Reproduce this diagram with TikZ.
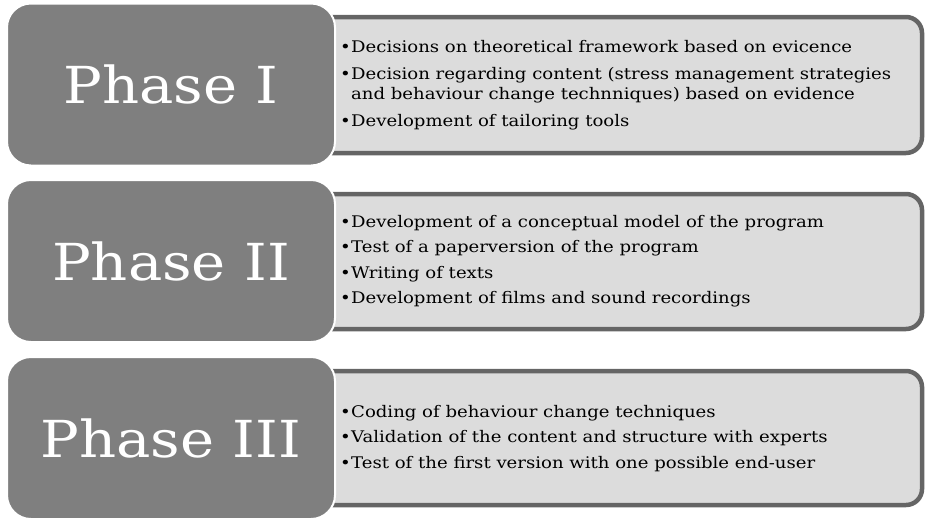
\documentclass[tikz,border=0pt]{standalone}
\usepackage{fontspec}
\setmainfont{DejaVu Serif}[FakeStretch=1.13]
\definecolor{phasefill}{HTML}{7F7F7F}
\definecolor{listfill}{HTML}{DCDCDC}
\definecolor{listedge}{HTML}{656565}
\newcommand{\itm}[1]{\makebox[11pt][l]{\textbullet}#1}
\newcommand{\cont}[1]{\hspace*{11pt}#1}
\begin{document}
\begin{tikzpicture}[x=1pt,y=-1pt,
  phasebox/.style={draw=white, line width=2pt, fill=phasefill, rounded corners=24pt,
    text=white, font=\fontsize{51}{60}\selectfont, inner sep=0pt},
  listbox/.style={draw=listedge, line width=4.5pt, fill=listfill, rounded corners=16pt,
    inner sep=0pt},
  listtext/.style={anchor=west, align=left, inner sep=0pt, text=black,
    font=\fontsize{16}{20.5}\selectfont}]
  \useasboundingbox (0,0) rectangle (925,520);

  % Phase I
  \node[listbox, minimum width=622pt, minimum height=136pt] (l1) at (611,85) {};
  \node[phasebox, minimum width=328pt, minimum height=162pt] (p1) at (171,84.5) {Phase I};
  \node[listtext] (t1) at (340,85) {%
    \itm{Decisions on theoretical framework based on evicence}\\[6pt]
    \itm{Decision regarding content (stress management strategies}\\
    \cont{and behaviour change technniques) based on evidence}\\[6pt]
    \itm{Development of tailoring tools}};

  % Phase II
  \node[listbox, minimum width=622pt, minimum height=135pt] (l2) at (611,261.5) {};
  \node[phasebox, minimum width=328pt, minimum height=162pt] (p2) at (171,261) {Phase II};
  \node[listtext] (t2) at (340,261) {%
    \itm{Development of a conceptual model of the program}\\[5pt]
    \itm{Test of a paperversion of the program}\\[5pt]
    \itm{Writing of texts}\\[5pt]
    \itm{Development of films and sound recordings}};

  % Phase III
  \node[listbox, minimum width=622pt, minimum height=134pt] (l3) at (611,438) {};
  \node[phasebox, minimum width=328pt, minimum height=162pt] (p3) at (171,438) {Phase III};
  \node[listtext] (t3) at (340,438.5) {%
    \itm{Coding of behaviour change techniques}\\[5pt]
    \itm{Validation of the content and structure with experts}\\[5pt]
    \itm{Test of the first version with one possible end-user}};
\end{tikzpicture}
\end{document}
